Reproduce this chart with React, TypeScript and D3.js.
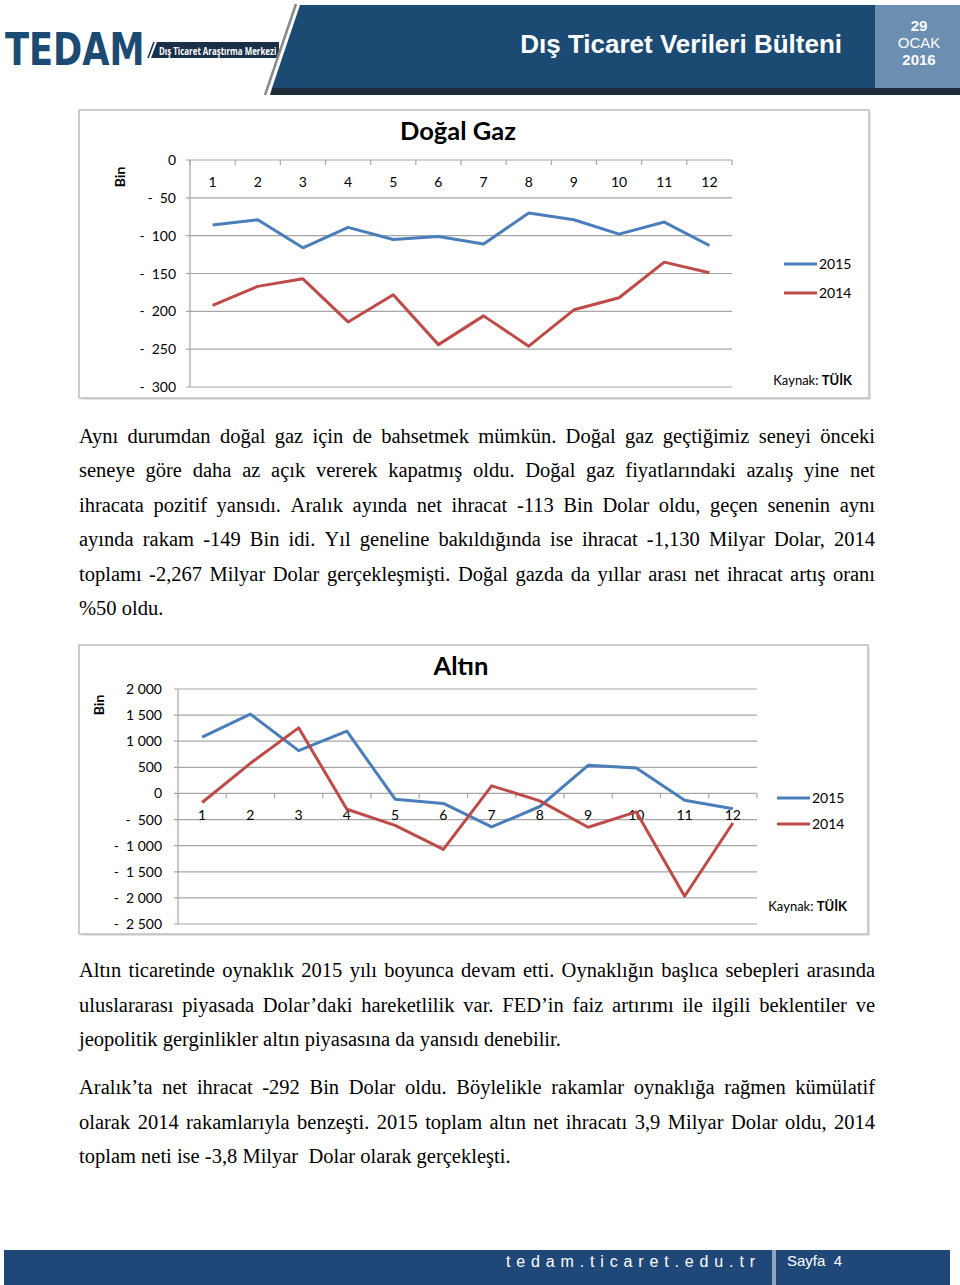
import React from "react";
import * as d3 from "d3";

const months = ["1", "2", "3", "4", "5", "6", "7", "8", "9", "10", "11", "12"];
const seriesNames = ["2015", "2014"];
const gas2015 = [-86, -79, -116, -89, -105, -101, -111, -70, -79, -98, -82, -113];
const gas2014 = [-192, -167, -157, -214, -178, -244, -206, -246, -198, -182, -135, -149];
const gasTicks = [0, -50, -100, -150, -200, -250, -300];
const gold2015 = [1077, 1519, 819, 1192, -110, -192, -642, -250, 538, 487, -129, -292];
const gold2014 = [-173, 577, 1256, -302, -610, -1071, 146, -142, -648, -354, -1969, -565];
const goldTicks = [2000, 1500, 1000, 500, 0, -500, -1000, -1500, -2000, -2500];

const para1 = [
  "Aynı durumdan doğal gaz için de bahsetmek mümkün. Doğal gaz geçtiğimiz seneyi önceki",
  "seneye göre daha az açık vererek kapatmış oldu. Doğal gaz fiyatlarındaki azalış yine net",
  "ihracata pozitif yansıdı. Aralık ayında net ihracat -113 Bin Dolar oldu, geçen senenin aynı",
  "ayında rakam -149 Bin idi. Yıl geneline bakıldığında ise ihracat -1,130 Milyar Dolar, 2014",
  "toplamı -2,267 Milyar Dolar gerçekleşmişti. Doğal gazda da yıllar arası net ihracat artış oranı",
  "%50 oldu.",
];
const para2 = [
  "Altın ticaretinde oynaklık 2015 yılı boyunca devam etti. Oynaklığın başlıca sebepleri arasında",
  "uluslararası piyasada Dolar’daki hareketlilik var. FED’in faiz artırımı ile ilgili beklentiler ve",
  "jeopolitik gerginlikler altın piyasasına da yansıdı denebilir.",
];
const para3 = [
  "Aralık’ta net ihracat -292 Bin Dolar oldu. Böylelikle rakamlar oynaklığa rağmen kümülatif",
  "olarak 2014 rakamlarıyla benzeşti. 2015 toplam altın net ihracatı 3,9 Milyar Dolar oldu, 2014",
  "toplam neti ise -3,8 Milyar  Dolar olarak gerçekleşti.",
];

const BLUE = "#4a7ebb";
const RED = "#be4b48";
const CHART_FONT = "Lato, 'Open Sans', sans-serif";
const BODY_FONT_SIZE = 20.5;
const BODY_FONT = "'Liberation Serif', serif";

const nf = d3.formatLocale({ decimal: ",", thousands: "\u00A0", grouping: [3], currency: ["", ""] }).format(",d");
const tickLabel = (v: number) => (v < 0 ? "-\u2002" + nf(-v) : nf(v));

let _ctx: CanvasRenderingContext2D | null = null;
function measure(text: string, font: string) {
  if (!_ctx) {
    const c = document.createElement("canvas");
    _ctx = c.getContext("2d");
  }
  if (!_ctx) return text.length * 8;
  _ctx.font = font;
  return _ctx.measureText(text).width;
}

function Line({ text, x, y, width, justify }: { text: string; x: number; y: number; width: number; justify: boolean }) {
  const font = `${BODY_FONT_SIZE}px "Liberation Serif"`;
  const words = text.split(/ +/);
  if (!justify || words.length < 2) {
    return (
      <text x={x} y={y} fontFamily={BODY_FONT} fontSize={BODY_FONT_SIZE} fill="#000" style={{ whiteSpace: "pre" }}>
        {text}
      </text>
    );
  }
  const widths = words.map((w) => measure(w, font));
  const total = d3.sum(widths);
  const gap = (width - total) / (words.length - 1);
  let cx = x;
  const xs: number[] = [];
  widths.forEach((w) => {
    xs.push(cx);
    cx += w + gap;
  });
  return (
    <text y={y} fontFamily={BODY_FONT} fontSize={BODY_FONT_SIZE} fill="#000">
      {words.map((w, i) => (
        <tspan key={i} x={xs[i]}>
          {w}
        </tspan>
      ))}
    </text>
  );
}

function Paragraph({ lines, x, y0, lh, width }: { lines: string[]; x: number; y0: number; lh: number; width: number }) {
  return (
    <g>
      {lines.map((l, i) => (
        <Line key={i} text={l} x={x} y={y0 + i * lh} width={width} justify={i < lines.length - 1} />
      ))}
    </g>
  );
}

type ChartProps = {
  box: [number, number, number, number];
  px: [number, number];
  py: [number, number];
  domain: [number, number];
  ticks: number[];
  s2015: number[];
  s2014: number[];
  title: string;
  titlePos: [number, number];
  labelRight: number;
  xLabelY: number;
  binPos: [number, number];
  legend: [number, number, number];
  kaynak: [number, number];
};

function Chart(p: ChartProps) {
  const x = d3.scaleBand<string>().domain(months).range(p.px).padding(0);
  const y = d3.scaleLinear().domain(p.domain).range(p.py);
  const line = d3
    .line<number>()
    .x((_, i) => (x(months[i]) as number) + x.bandwidth() / 2)
    .y((d) => y(d));
  const y0 = y(0);
  const bounds = [...months.map((m) => x(m) as number), p.px[1]];
  return (
    <g>
      <rect x={p.box[0] + 2} y={p.box[1] + 2} width={p.box[2]} height={p.box[3]} fill="#e4e4e4" />
      <rect x={p.box[0]} y={p.box[1]} width={p.box[2]} height={p.box[3]} fill="#fff" stroke="#bdbdbd" strokeWidth={1.5} />
      {p.ticks.map((t) => (
        <g key={t}>
          <line x1={p.px[0] - 4} x2={p.px[1]} y1={y(t)} y2={y(t)} stroke="#a6a6a6" strokeWidth={1.2} />
          <text x={p.labelRight} y={y(t) + 5} textAnchor="end" fontFamily={CHART_FONT} fontSize={14} fill="#000" style={{ whiteSpace: "pre" }}>
            {tickLabel(t)}
          </text>
        </g>
      ))}
      <line x1={p.px[0]} x2={p.px[0]} y1={y(p.domain[1])} y2={y(p.domain[0])} stroke="#a6a6a6" strokeWidth={1.2} />
      {bounds.map((b, i) => (
        <line key={i} x1={b} x2={b} y1={y0} y2={y0 + 5} stroke="#a6a6a6" strokeWidth={1.2} />
      ))}
      {months.map((m) => (
        <text key={m} x={(x(m) as number) + x.bandwidth() / 2} y={p.xLabelY} textAnchor="middle" fontFamily={CHART_FONT} fontSize={14} fill="#000">
          {m}
        </text>
      ))}
      <path d={line(p.s2015) || ""} fill="none" stroke={BLUE} strokeWidth={3} strokeLinejoin="round" />
      <path d={line(p.s2014) || ""} fill="none" stroke={RED} strokeWidth={3} strokeLinejoin="round" />
      <text x={p.titlePos[0]} y={p.titlePos[1]} textAnchor="middle" fontFamily={CHART_FONT} fontSize={25.5} fontWeight="bold" fill="#000">
        {p.title}
      </text>
      <text
        transform={`translate(${p.binPos[0]},${p.binPos[1]}) rotate(-90)`}
        textAnchor="middle"
        fontFamily={CHART_FONT}
        fontSize={14}
        fontWeight="bold"
        fill="#000"
      >
        Bin
      </text>
      {seriesNames.map((n, i) => {
        const ly = i === 0 ? p.legend[1] : p.legend[2];
        return (
          <g key={n}>
            <line x1={p.legend[0]} x2={p.legend[0] + 33} y1={ly} y2={ly} stroke={i === 0 ? BLUE : RED} strokeWidth={3} />
            <text x={p.legend[0] + 35} y={ly + 5} fontFamily={CHART_FONT} fontSize={14} fill="#000">
              {n}
            </text>
          </g>
        );
      })}
      <text x={p.kaynak[0]} y={p.kaynak[1]} textAnchor="end" fontFamily={CHART_FONT} fontSize={13} fill="#000">
        Kaynak: <tspan fontWeight="bold">TÜİK</tspan>
      </text>
    </g>
  );
}

function Header() {
  return (
    <g>
      <text transform="translate(5,65) scale(0.8,1)" fontFamily="'DejaVu Sans', sans-serif" fontWeight="bold" fontSize={44} fill="#1b4a72">
        TEDAM
      </text>
      <line x1={148} y1={58} x2={154} y2={42} stroke="#1a2f48" strokeWidth={1.5} />
      <path d="M157,42 L279,42 L279,58 L151,58 Z" fill="#1a2f48" />
      <text transform="translate(159,54.5) scale(0.72,1)" fontFamily="'Open Sans', sans-serif" fontSize={11} fontWeight="bold" fill="#fff">
        Dış Ticaret Araştırma Merkezi
      </text>
      <line x1={296} y1={4} x2={265} y2={95} stroke="#8a8a8a" strokeWidth={2.5} />
      <path d="M300,5 L875,5 L875,88 L272,88 Z" fill="#1b4a72" />
      <path d="M272,88 L960,88 L960,95 L270,95 Z" fill="#1e2c3a" />
      <rect x={875} y={5} width={85} height={83} fill="#6b8eb1" />
      <text x={842} y={53} textAnchor="end" fontFamily="'Liberation Sans', Arial, sans-serif" fontWeight="bold" fontSize={26} fill="#fff">
        Dış Ticaret Verileri Bülteni
      </text>
      <text x={919} y={31} textAnchor="middle" fontFamily="'Liberation Sans', Arial, sans-serif" fontWeight="bold" fontSize={15} fill="#fff">
        29
      </text>
      <text x={919} y={48} textAnchor="middle" fontFamily="'Liberation Sans', Arial, sans-serif" fontSize={15} fill="#fff">
        OCAK
      </text>
      <text x={919} y={65} textAnchor="middle" fontFamily="'Liberation Sans', Arial, sans-serif" fontWeight="bold" fontSize={15} fill="#fff">
        2016
      </text>
    </g>
  );
}

function Footer() {
  return (
    <g>
      <rect x={4} y={1250} width={946} height={35} fill="#1f4778" />
      <rect x={772} y={1250} width={4} height={35} fill="#8fa5c0" />
      <text x={506} y={1267} fontFamily="'Liberation Sans', Arial, sans-serif" fontSize={16} fill="#fff" textLength={249} lengthAdjust="spacing">
        tedam.ticaret.edu.tr
      </text>
      <text x={787} y={1266} fontFamily="'Liberation Sans', Arial, sans-serif" fontSize={15} fill="#fff" style={{ whiteSpace: "pre" }}>
        Sayfa  4
      </text>
    </g>
  );
}

export default function App() {
  return (
    <svg width={960} height={1285} viewBox="0 0 960 1285" style={{ position: "absolute", left: 0, top: 0, display: "block", background: "#fff" }}>
      <rect width={960} height={1285} fill="#fff" />
      <Header />
      <Chart
        box={[79, 110, 790, 288]}
        px={[190, 732]}
        py={[160, 387]}
        domain={[0, -300]}
        ticks={gasTicks}
        s2015={gas2015}
        s2014={gas2014}
        title="Doğal Gaz"
        titlePos={[458, 140]}
        labelRight={176}
        xLabelY={187}
        binPos={[125, 177]}
        legend={[784, 264, 293]}
        kaynak={[852, 385]}
      />
      <Paragraph lines={para1} x={79} y0={443} lh={34.4} width={796} />
      <Chart
        box={[79, 645, 789, 289]}
        px={[178, 757]}
        py={[689, 924]}
        domain={[2000, -2500]}
        ticks={goldTicks}
        s2015={gold2015}
        s2014={gold2014}
        title="Altın"
        titlePos={[461, 675]}
        labelRight={162}
        xLabelY={820}
        binPos={[104, 705]}
        legend={[777, 798, 824]}
        kaynak={[847, 911]}
      />
      <Paragraph lines={para2} x={79} y0={977} lh={34.5} width={796} />
      <Paragraph lines={para3} x={79} y0={1094} lh={34.5} width={796} />
      <Footer />
    </svg>
  );
}
